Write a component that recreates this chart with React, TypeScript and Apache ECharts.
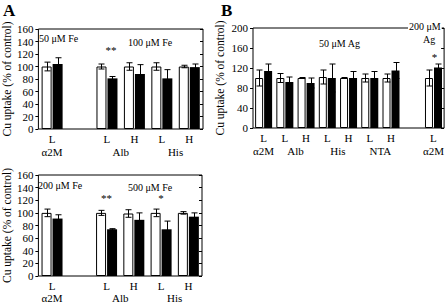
import React, { useEffect, useRef } from 'react';
import * as echarts from 'echarts';

const FONT = "'Liberation Serif', 'Times New Roman', serif";

// ---- Panel A (top): 50 / 100 µM Fe ----
const aCats = ['L', '', 'L', 'H', 'L', 'H'];
const aTopControl = [100, null, 100, 100, 100, 100];
const aTopControlErr = [7, null, 4, 6, 6, 2];
const aTopTreated = [104, null, 81, 88, 81, 99];
const aTopTreatedErr = [10, null, 3, 15, 14, 5];

// ---- Panel A (bottom): 200 / 500 µM Fe ----
const aBotControl = [100, null, 100, 99, 100, 100];
const aBotControlErr = [6, null, 4, 6, 6, 2];
const aBotTreated = [91, null, 74, 89, 74, 94];
const aBotTreatedErr = [6, null, 1, 11, 13, 6];

// ---- Panel B: 50 / 200 µM Ag ----
const bCats = ['L', 'L', 'H', 'L', 'H', 'L', 'H', '', 'L'];
const bControl = [100, 100, 100, 102, 100, 100, 100, null, 100];
const bControlErr = [16, 9, 1, 14, 1, 8, 8, null, 16];
const bTreated = [114, 92, 90, 100, 100, 100, 115, null, 121];
const bTreatedErr = [14, 10, 10, 28, 13, 13, 16, null, 7];

// group labels (position in slot units along the category axis)
const aGroupNames = ['α2M', 'Alb', 'His'];
const aGroupPos = [0.5, 3, 5];
const bGroupNames = ['α2M', 'Alb', 'His', 'NTA', 'α2M'];
const bGroupPos = [0.5, 2, 4, 6, 8.5];

// significance marks: [categoryIndex, value, text]
const aTopMarks: [number, number, string][] = [[2, 127, '**']];
const aBotMarks: [number, number, string][] = [[2, 123, '**'], [4, 123, '*']];
const bMarks: [number, number, string][] = [[8, 143, '*']];

const aTicks = { min: 0, max: 160, interval: 20 };
const bTicks = { min: 0, max: 200, interval: 40 };

const yName = 'Cu uptake (% of control)';

function errSeries(xIdx: number, yIdx: number, vals: (number | null)[], errs: (number | null)[], offset: number) {
  const data = vals
    .map((v, i) => (v == null ? null : [i, v, errs[i] as number]))
    .filter((d) => d !== null);
  return {
    type: 'custom',
    xAxisIndex: xIdx,
    yAxisIndex: yIdx,
    z: 5,
    silent: true,
    encode: { x: 0, y: 1 },
    data,
    renderItem: (_p: any, api: any) => {
      const i = api.value(0);
      const v = api.value(1);
      const e = api.value(2);
      const c = api.coord([i, v]);
      const hi = api.coord([i, v + e]);
      const lo = api.coord([i, v - e]);
      const x = Math.round(c[0] + offset) + 0.5;
      const cap = 3;
      const style = { stroke: '#000', lineWidth: 1 };
      return {
        type: 'group',
        children: [
          { type: 'line', shape: { x1: x, y1: hi[1], x2: x, y2: lo[1] }, style },
          { type: 'line', shape: { x1: x - cap, y1: hi[1], x2: x + cap, y2: hi[1] }, style },
          { type: 'line', shape: { x1: x - cap, y1: lo[1], x2: x + cap, y2: lo[1] }, style },
        ],
      };
    },
  };
}

function barSeries(xIdx: number, yIdx: number, control: (number | null)[], treated: (number | null)[], w: number) {
  return [
    {
      type: 'bar',
      xAxisIndex: xIdx,
      yAxisIndex: yIdx,
      data: control.map((v) => (v == null ? '-' : v)),
      barWidth: w,
      barGap: (100 / w).toFixed(1) + '%',
      itemStyle: { color: '#fff', borderColor: '#000', borderWidth: 1 },
      silent: true,
    },
    {
      type: 'bar',
      xAxisIndex: xIdx,
      yAxisIndex: yIdx,
      data: treated.map((v) => (v == null ? '-' : v)),
      barWidth: w,
      itemStyle: { color: '#000' },
      silent: true,
    },
  ];
}

function markSeries(xIdx: number, yIdx: number, marks: [number, number, string][], dx: number) {
  return {
    type: 'custom',
    xAxisIndex: xIdx,
    yAxisIndex: yIdx,
    silent: true,
    z: 6,
    encode: { x: 0, y: 1 },
    data: marks.map((m) => [m[0], m[1]]),
    renderItem: (p: any, api: any) => {
      const c = api.coord([api.value(0), api.value(1)]);
      return {
        type: 'text',
        x: c[0] + dx,
        y: c[1],
        style: {
          text: marks[p.dataIndex][2],
          fill: '#000',
          fontFamily: FONT,
          fontSize: 11,
          align: 'center',
          verticalAlign: 'middle',
        },
      };
    },
  };
}

const textStyle = { color: '#000', fontFamily: FONT, fontSize: 11 };

function leftY(grid: number, t: { min: number; max: number; interval: number }, nameGap: number) {
  return {
    type: 'value',
    gridIndex: grid,
    position: 'left',
    ...t,
    axisLine: { show: false },
    splitLine: { show: false },
    axisTick: { show: true, inside: false, length: 3, lineStyle: { color: '#000' } },
    axisLabel: { ...textStyle, margin: 5 },
    name: yName,
    nameLocation: 'middle',
    nameGap,
    nameRotate: 90,
    nameTextStyle: { ...textStyle, fontSize: 11.5 },
  };
}

function rightY(grid: number, t: { min: number; max: number; interval: number }) {
  return {
    type: 'value',
    gridIndex: grid,
    position: 'right',
    ...t,
    axisLine: { show: false },
    splitLine: { show: false },
    axisTick: { show: true, inside: true, length: 3, lineStyle: { color: '#000' } },
    axisLabel: { show: false },
  };
}

function catX(grid: number, cats: string[]) {
  return {
    type: 'category',
    gridIndex: grid,
    data: cats,
    boundaryGap: true,
    axisLine: { show: false },
    axisTick: { show: false },
    splitLine: { show: false },
    axisLabel: { ...textStyle, interval: 0, margin: 4 },
  };
}

function groupX(grid: number, n: number, names: string[], pos: number[], offset: number) {
  return {
    type: 'value',
    gridIndex: grid,
    position: 'bottom',
    min: 0,
    max: n,
    offset,
    axisLine: { show: false },
    axisTick: { show: false },
    splitLine: { show: false },
    axisLabel: {
      ...textStyle,
      margin: 4,
      customValues: pos,
      formatter: (v: number) => {
        const k = pos.findIndex((p) => Math.abs(p - v) < 0.01);
        return k >= 0 ? names[k] : '';
      },
    },
  };
}

function label(text: string, x: number, y: number, extra: any = {}) {
  return {
    type: 'text',
    x,
    y,
    z: 20,
    style: {
      text,
      fill: '#000',
      fontFamily: FONT,
      fontSize: 10,
      verticalAlign: 'middle',
      ...extra,
    },
  };
}

export default function App() {
  const ref = useRef<HTMLDivElement>(null);
  useEffect(() => {
    if (!ref.current) return;
    const chart = echarts.init(ref.current, undefined, { renderer: 'svg' });
    const wA = 10;
    const wB = 8;
    const offA = (wA + 1) / 2;
    const offB = (wB + 1) / 2;
    const option: any = {
      animation: false,
      backgroundColor: '#fff',
      grid: [
        { left: 34, top: 29, width: 169, height: 100, show: true, borderColor: '#000', borderWidth: 1, backgroundColor: 'transparent' },
        { left: 33, top: 175, width: 169, height: 101, show: true, borderColor: '#000', borderWidth: 1, backgroundColor: 'transparent' },
        { left: 253, top: 28, width: 192, height: 100, show: true, borderColor: '#000', borderWidth: 1, backgroundColor: 'transparent' },
      ],
      xAxis: [
        catX(0, aCats),
        groupX(0, 6, aGroupNames, aGroupPos, 13),
        catX(1, aCats),
        groupX(1, 6, aGroupNames, aGroupPos, 12),
        catX(2, bCats),
        groupX(2, 9, bGroupNames, bGroupPos, 13),
      ],
      yAxis: [
        leftY(0, aTicks, 23),
        rightY(0, aTicks),
        leftY(1, aTicks, 23),
        rightY(1, aTicks),
        leftY(2, bTicks, 27),
        rightY(2, bTicks),
      ],
      series: [
        ...barSeries(0, 0, aTopControl, aTopTreated, wA),
        errSeries(0, 0, aTopControl, aTopControlErr, -offA),
        errSeries(0, 0, aTopTreated, aTopTreatedErr, offA),
        markSeries(0, 0, aTopMarks, 4),
        ...barSeries(2, 2, aBotControl, aBotTreated, wA),
        errSeries(2, 2, aBotControl, aBotControlErr, -offA),
        errSeries(2, 2, aBotTreated, aBotTreatedErr, offA),
        markSeries(2, 2, aBotMarks, 0),
        ...barSeries(4, 4, bControl, bTreated, wB),
        errSeries(4, 4, bControl, bControlErr, -offB),
        errSeries(4, 4, bTreated, bTreatedErr, offB),
        markSeries(4, 4, bMarks, 1),
      ],
      graphic: [
        label('A', 3, 10, { fontSize: 17, fontWeight: 'bold' }),
        label('B', 221, 10, { fontSize: 17, fontWeight: 'bold' }),
        label('50 μM Fe', 39, 38),
        label('100 μM Fe', 128, 42),
        label('200 μM Fe', 38, 185),
        label('500 μM Fe', 128, 187),
        label('50 μM Ag', 319, 43),
        label('200 μM', 408, 26, { backgroundColor: '#fff', padding: [0, 1, 0, 1] }),
        label('Ag', 423, 39),
      ],
    };
    chart.setOption(option);
    return () => chart.dispose();
  }, []);
  return <div ref={ref} style={{ position: 'fixed', left: 0, top: 0, width: 447, height: 303 }} />;
}
